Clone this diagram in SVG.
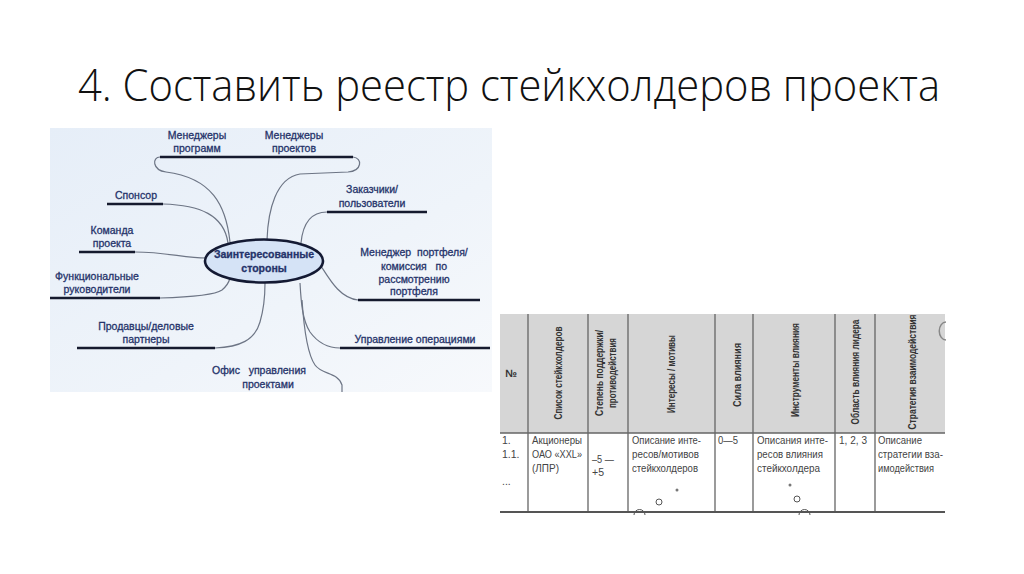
<svg xmlns="http://www.w3.org/2000/svg" width="1024" height="574" viewBox="0 0 1024 574">
<defs>
<linearGradient id="bg" x1="0" y1="0" x2="1" y2="1">
<stop offset="0" stop-color="#e6eef8"/>
<stop offset="0.6" stop-color="#eff4fa"/>
<stop offset="1" stop-color="#f7f9fc"/>
</linearGradient>
<style>
.title{font-family:"Open Sans","Liberation Sans",sans-serif;font-weight:300;font-size:44px;fill:#111}
.lbl{font-family:"Liberation Sans",Arial,sans-serif;font-size:10.5px;fill:#25336a;text-anchor:middle;stroke:#25336a;stroke-width:0.3}
.ul{stroke:#151a2e;stroke-width:2.6;fill:none}
.cn{stroke:#6d7585;stroke-width:1.2;fill:none}
.hd{font-family:"Liberation Sans",Arial,sans-serif;font-size:10.5px;font-weight:bold;fill:#333;text-anchor:middle}
.bd{font-family:"Liberation Sans",Arial,sans-serif;font-size:10.5px;fill:#444}
.tl{stroke:#666;stroke-width:1.3;fill:none}
</style>
</defs>
<rect width="1024" height="574" fill="#ffffff"/>
<text class="title" x="78" y="101" textLength="862" lengthAdjust="spacingAndGlyphs">4. Составить реестр стейкхолдеров проекта</text>

<g id="mindmap-bg"><rect x="50" y="128" width="442" height="264" fill="url(#bg)"/></g>

<g id="connectors">
<path class="cn" d="M160,157 C152,157 152,170 166,172 C212,178 226,205 230,242"/>
<path class="cn" d="M353,157 C363,158 362,171 348,172 L300,174 C276,178 268,210 267,240"/>
<path class="cn" d="M163,204 C200,205 224,215 228,243"/>
<path class="cn" d="M135,252 C165,252 185,258 206,258"/>
<path class="cn" d="M160,298 C195,297 215,295 222,290 C228,285 229,282 230,278"/>
<path class="cn" d="M215,348 C240,347 255,340 260,322 C265,305 265,290 265,283"/>
<path class="cn" d="M327,212 C312,212 303,222 301,243"/>
<path class="cn" d="M321,266 C330,280 340,298 358,300"/>
<path class="cn" d="M300,283 C301,300 302,320 310,332 C318,343 328,348 340,348"/>
<path class="cn" d="M302,300 C304,330 308,355 315,365 C322,375 338,372 342,385 L342,392"/>
<path class="ul" d="M160,157 L353,157"/>
<path class="ul" d="M107,204 L163,204"/>
<path class="ul" d="M79,252 L135,252"/>
<path class="ul" d="M50,298 L160,298"/>
<path class="ul" d="M77,348 L215,348"/>
<path class="ul" d="M327,212 L427,212"/>
<path class="ul" d="M358,300 L480,300"/>
<path class="ul" d="M340,348 L490,348"/>
</g>

<g id="center">
<ellipse cx="264" cy="261" rx="59" ry="21.5" fill="#d5e3f6" stroke="#141a33" stroke-width="2.6"/>
<text class="lbl" x="264" y="258" font-weight="bold" font-size="9.5">Заинтересованные</text>
<text class="lbl" x="264" y="272" font-weight="bold" font-size="9.5">стороны</text>
</g>
<g id="n-programs"><text class="lbl" x="197" y="139">Менеджеры</text><text class="lbl" x="197" y="152">программ</text></g>
<g id="n-projects"><text class="lbl" x="294" y="139">Менеджеры</text><text class="lbl" x="294" y="152">проектов</text></g>
<g id="n-sponsor"><text class="lbl" x="136" y="199">Спонсор</text></g>
<g id="n-team"><text class="lbl" x="112" y="234">Команда</text><text class="lbl" x="112" y="247">проекта</text></g>
<g id="n-func"><text class="lbl" x="97" y="280">Функциональные</text><text class="lbl" x="97" y="293">руководители</text></g>
<g id="n-sellers"><text class="lbl" x="146" y="330">Продавцы/деловые</text><text class="lbl" x="146" y="343">партнеры</text></g>
<g id="n-office"><text class="lbl" x="259" y="374" xml:space="preserve">Офис   управления</text><text class="lbl" x="268" y="388">проектами</text></g>
<g id="n-customers"><text class="lbl" x="372" y="193">Заказчики/</text><text class="lbl" x="372" y="207">пользователи</text></g>
<g id="n-portfolio"><text class="lbl" x="414" y="256" xml:space="preserve">Менеджер  портфеля/</text><text class="lbl" x="414" y="270" xml:space="preserve">комиссия   по</text><text class="lbl" x="414" y="283">рассмотрению</text><text class="lbl" x="414" y="295">портфеля</text></g>
<g id="n-ops"><text class="lbl" x="415" y="343">Управление операциями</text></g>

<g id="table">
<rect x="498" y="312" width="448" height="203" fill="#ffffff"/>
<rect x="500" y="314" width="445" height="119" fill="#d6d6d6"/>
<path class="tl" d="M500,433 H945 M528,314 V512 M588,314 V512 M628,314 V512 M715,314 V512 M753,314 V512 M835,314 V512 M875,314 V512"/>
<path d="M500,512 H945" stroke="#555" stroke-width="2"/>
<path d="M946,322 A6,8 0 0 0 946,340" stroke="#888" stroke-width="1.5" fill="none"/>
<text class="hd" x="511" y="377">№</text>
<text class="hd" transform="translate(562,373) rotate(-90)" textLength="93" lengthAdjust="spacingAndGlyphs">Список стейкхолдеров</text>
<text class="hd" transform="translate(603,373) rotate(-90)" textLength="86" lengthAdjust="spacingAndGlyphs">Степень поддержки/</text>
<text class="hd" transform="translate(616,373) rotate(-90)" textLength="70" lengthAdjust="spacingAndGlyphs">противодействия</text>
<text class="hd" transform="translate(675,374) rotate(-90)" textLength="78" lengthAdjust="spacingAndGlyphs">Интересы / мотивы</text>
<text class="hd" transform="translate(741,375) rotate(-90)" textLength="64" lengthAdjust="spacingAndGlyphs">Сила влияния</text>
<text class="hd" transform="translate(799,370) rotate(-90)" textLength="94" lengthAdjust="spacingAndGlyphs">Инструменты влияния</text>
<text class="hd" transform="translate(859,372) rotate(-90)" textLength="105" lengthAdjust="spacingAndGlyphs">Область влияния лидера</text>
<text class="hd" transform="translate(916,372) rotate(-90)" textLength="115" lengthAdjust="spacingAndGlyphs">Стратегия взаимодействия</text>
<text class="bd" x="502" y="444">1.</text>
<text class="bd" x="502" y="458">1.1.</text>
<text class="bd" x="502" y="485">...</text>
<text class="bd" x="532" y="444" textLength="50" lengthAdjust="spacingAndGlyphs">Акционеры</text>
<text class="bd" x="532" y="458" textLength="50" lengthAdjust="spacingAndGlyphs">ОАО «XXL»</text>
<text class="bd" x="532" y="472" textLength="27" lengthAdjust="spacingAndGlyphs">(ЛПР)</text>
<text class="bd" x="592" y="463" textLength="22" lengthAdjust="spacingAndGlyphs">–5 —</text>
<text class="bd" x="592" y="476">+5</text>
<text class="bd" x="632" y="444" textLength="69" lengthAdjust="spacingAndGlyphs">Описание инте-</text>
<text class="bd" x="632" y="458" textLength="67" lengthAdjust="spacingAndGlyphs">ресов/мотивов</text>
<text class="bd" x="632" y="472" textLength="66" lengthAdjust="spacingAndGlyphs">стейкхолдеров</text>
<text class="bd" x="718" y="444" textLength="20" lengthAdjust="spacingAndGlyphs">0—5</text>
<text class="bd" x="757" y="444" textLength="71" lengthAdjust="spacingAndGlyphs">Описания инте-</text>
<text class="bd" x="757" y="458" textLength="66" lengthAdjust="spacingAndGlyphs">ресов влияния</text>
<text class="bd" x="757" y="472" textLength="63" lengthAdjust="spacingAndGlyphs">стейкхолдера</text>
<text class="bd" x="839" y="444" textLength="28" lengthAdjust="spacingAndGlyphs">1, 2, 3</text>
<text class="bd" x="878" y="444" textLength="44" lengthAdjust="spacingAndGlyphs">Описание</text>
<text class="bd" x="878" y="458" textLength="65" lengthAdjust="spacingAndGlyphs">стратегии вза-</text>
<text class="bd" x="878" y="472" textLength="56" lengthAdjust="spacingAndGlyphs">имодействия</text>
<circle cx="677" cy="490" r="1.5" fill="#777"/>
<circle cx="659" cy="502" r="3" fill="none" stroke="#555" stroke-width="1"/>
<path d="M634,515 A5,5 0 0 1 645,515" fill="none" stroke="#555" stroke-width="1"/>
<circle cx="790" cy="485" r="1.5" fill="#777"/>
<circle cx="797" cy="499" r="3" fill="none" stroke="#555" stroke-width="1"/>
<path d="M799,515 A5,5 0 0 1 810,515" fill="none" stroke="#555" stroke-width="1"/>
</g>
</svg>
